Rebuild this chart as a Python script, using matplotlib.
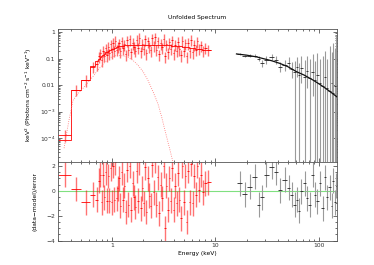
import numpy as np
import matplotlib
matplotlib.use("Agg")
import matplotlib.pyplot as plt
from matplotlib.ticker import FixedLocator, FixedFormatter, LogLocator, NullFormatter, MultipleLocator

# --- red spectrum (soft band), energies in keV ---
red_e = [0.35, 0.45, 0.56, 0.655,
         0.72, 0.745, 0.77, 0.795, 0.82, 0.845, 0.87, 0.895, 0.92, 0.945,
         0.97, 0.995, 1.02, 1.05, 1.08, 1.11, 1.14, 1.17, 1.20, 1.24,
         1.28, 1.32, 1.36, 1.40, 1.44, 1.48, 1.53, 1.58, 1.63, 1.68,
         1.73, 1.78, 1.84, 1.90, 1.96, 2.02, 2.08, 2.15, 2.22, 2.29,
         2.36, 2.44, 2.52, 2.60, 2.68, 2.77, 2.86, 2.95, 3.05, 3.15,
         3.25, 3.36, 3.47, 3.58, 3.70, 3.82, 3.95, 4.08, 4.21, 4.35,
         4.49, 4.64, 4.79, 4.95, 5.11, 5.28, 5.46, 5.64, 5.83, 6.03,
         6.24, 6.46, 6.70, 6.95, 7.25, 7.60, 8.00, 8.45]
red_y = [1.35e-4, 0.0068, 0.016, 0.05,
         0.06, 0.12, 0.16, 0.09, 0.20, 0.13, 0.25, 0.14, 0.28, 0.16,
         0.35, 0.17, 0.40, 0.20, 0.48, 0.22, 0.30, 0.38, 0.19, 0.45,
         0.25, 0.36, 0.15, 0.50, 0.22, 0.55, 0.18, 0.40, 0.28, 0.20,
         0.52, 0.26, 0.62, 0.19, 0.37, 0.24, 0.55, 0.16, 0.45, 0.29,
         0.21, 0.58, 0.33, 0.65, 0.22, 0.46, 0.15, 0.38, 0.27, 0.56,
         0.12, 0.36, 0.17, 0.42, 0.24, 0.50, 0.16, 0.34, 0.20, 0.44,
         0.23, 0.14, 0.48, 0.20, 0.38, 0.12, 0.40, 0.19, 0.52, 0.17,
         0.34, 0.22, 0.46, 0.24, 0.33, 0.21, 0.26, 0.22]
red_model = [8.5e-5, 0.0065, 0.016, 0.052,
             0.08, 0.095, 0.11, 0.125, 0.14, 0.155, 0.17, 0.185, 0.20, 0.21,
             0.22, 0.23, 0.24, 0.25, 0.26, 0.27, 0.28, 0.29, 0.295, 0.30,
             0.31, 0.315, 0.32, 0.32, 0.325, 0.33, 0.33, 0.335, 0.335, 0.34,
             0.34, 0.34, 0.34, 0.34, 0.34, 0.34, 0.34, 0.34, 0.34, 0.34,
             0.34, 0.34, 0.34, 0.34, 0.335, 0.335, 0.335, 0.33, 0.33, 0.33,
             0.325, 0.325, 0.32, 0.32, 0.315, 0.31, 0.31, 0.305, 0.30, 0.30,
             0.295, 0.29, 0.285, 0.28, 0.275, 0.27, 0.265, 0.26, 0.255, 0.25,
             0.245, 0.24, 0.235, 0.23, 0.225, 0.22, 0.215, 0.21]
red_resid = [1.3, 0.15, -0.9, -0.3,
             -0.7, 0.8, 1.3, -0.9, 1.3, -0.5, 1.5, -0.8, 1.2, -0.8,
             1.8, -0.9, 2.0, -0.7, 2.3, -0.6, 0.2, 1.0, -1.2, 1.5,
             -0.7, 0.4, -1.7, 1.7, -1.1, 2.0, -1.5, 0.6, -0.5, -1.3,
             1.6, -0.8, 2.3, -1.4, 0.2, -1.0, 1.9, -1.7, 1.0, -0.4,
             -1.2, 2.1, -0.1, 2.4, -1.1, 1.1, -1.8, 0.5, -0.6, 2.0,
             -3.0, 0.4, -1.5, 1.0, -0.8, 1.8, -1.5, 0.4, -1.0, 1.4,
             -0.7, -2.2, 2.0, -0.9, 1.2, -2.5, 1.6, -0.9, 2.2, -1.0,
             1.2, -0.3, 2.0, 0.1, 1.3, -0.1, 0.6, 0.7]
red_rel_err = 0.45

# dotted model component on the red spectrum
comp_e = [0.344, 0.38, 0.42, 0.47, 0.53, 0.59, 0.66, 0.73, 0.82, 0.915, 1.0, 1.09, 1.2,
          1.3, 1.43, 1.6, 1.78, 2.0, 2.23, 2.5, 2.78, 3.0, 3.25, 3.45, 3.64, 3.9]
comp_y = [4.2e-5, 4e-4, 0.0027, 0.0049, 0.008, 0.013, 0.022, 0.037, 0.062, 0.095, 0.118, 0.13, 0.13,
          0.125, 0.112, 0.085, 0.057, 0.032, 0.015, 0.0055, 0.002, 7e-4, 2e-4, 8e-5, 3.5e-5, 1.2e-5]

# --- black spectrum (hard band) ---
blk_e = [17.3, 19.3, 21.5, 24.0, 26.5, 28.0, 31.0, 35.0, 39.0, 42.0, 47.0, 51.0, 55.0, 58.6,
         61.0, 64.0, 68.0, 73.0, 77.0, 82.0, 87.0, 92.0, 97.0, 102.0, 110.0, 115.0, 120.0,
         128.0, 133.0, 138.0, 143.0, 148.0]
blk_y = [0.148, 0.125, 0.13, 0.13, 0.10, 0.066, 0.09, 0.117, 0.088, 0.049, 0.057, 0.07, 0.04, 0.03,
         0.05, 0.025, 0.045, 0.02, 0.035, 0.018, 0.03, 0.015, 0.025, 0.012, 0.009, 0.02, 0.008,
         0.006, 0.012, 0.005, 0.009, 0.004]
blk_lo = [0.135, 0.112, 0.115, 0.11, 0.08, 0.05, 0.065, 0.09, 0.06, 0.03, 0.035, 0.04, 0.018, 1e-6,
          0.02, 1e-6, 0.012, 1e-6, 0.008, 1e-6, 0.004, 1e-6, 1e-6, 1e-6, 1e-6, 1e-6, 1e-6,
          1e-6, 1e-6, 1e-6, 1e-6, 1e-6]
blk_hi = [0.16, 0.138, 0.145, 0.15, 0.12, 0.085, 0.12, 0.145, 0.12, 0.075, 0.085, 0.11, 0.075, 0.08,
          0.11, 0.07, 0.12, 0.09, 0.13, 0.10, 0.15, 0.08, 0.16, 0.10, 0.12, 0.20, 0.10,
          0.30, 0.18, 0.40, 0.25, 0.80]
blk_resid = [0.6, -0.27, 0.35, 1.15, -1.1, -0.5, 1.3, 1.95, 1.5, 0.05, 0.9, 0.25, -0.3, -1.1,
             -0.7, -1.6, -0.05, 0.6, -0.6, -1.1, 1.3, -0.3, -0.85, 0.6, -1.4, 1.1, -0.5,
             0.3, -1.2, 0.8, -0.9, 0.4]
blk_model_e = [16, 20, 25, 29, 35, 42, 50, 61, 72, 88, 105, 125, 150]
blk_model_y = [0.15, 0.135, 0.116, 0.10, 0.083, 0.066, 0.05, 0.032, 0.024, 0.0155, 0.01, 0.0062, 0.0036]

FS = 4.3


def bin_edges(e, first, last):
    e = np.asarray(e)
    mids = np.sqrt(e[:-1] * e[1:])
    return np.concatenate([[first], mids, [last]])


def style_axis(ax):
    ax.tick_params(which='both', direction='in', top=True, right=True,
                   labelsize=FS, width=0.5, colors='#333333', pad=2)
    ax.tick_params(which='major', length=3)
    ax.tick_params(which='minor', length=1.5)
    for s in ax.spines.values():
        s.set_linewidth(0.6)
        s.set_color('#555555')


re = np.array(red_e)
ry = np.array(red_y)
redges = bin_edges(re, 0.30, 9.0)
rxerr = [re - redges[:-1], redges[1:] - re]

be = np.array(blk_e)
by = np.array(blk_y)
bedges = bin_edges(be, 16.2, 152.0)
bxerr = [be - bedges[:-1], bedges[1:] - be]

red_bar = (1, 0, 0, 0.55)
grey_bar = '#9a9a9a'

fig = plt.figure(figsize=(3.74, 2.65), dpi=100)
ax1 = fig.add_axes([0.155, 0.390, 0.746, 0.502])
ax2 = fig.add_axes([0.155, 0.092, 0.746, 0.298], sharex=ax1)

# upper panel
ax1.errorbar(re, ry, yerr=ry * red_rel_err, fmt='none', ecolor=red_bar, elinewidth=1.0)
ax1.errorbar(re, ry, xerr=rxerr, fmt='none', ecolor='red', elinewidth=0.6)
ax1.stairs(red_model, redges, baseline=None, color='red', lw=0.6)
ax1.plot(comp_e, comp_y, ls=':', color='#ff7070', lw=0.6)

ax1.errorbar(be, by, yerr=[by - np.array(blk_lo), np.array(blk_hi) - by], fmt='none',
             ecolor=grey_bar, elinewidth=0.8)
ax1.errorbar(be, by, xerr=bxerr, fmt='none', ecolor='#222222', elinewidth=0.6)
ax1.plot(blk_model_e, blk_model_y, color='#111111', lw=0.9)

ax1.set_xscale('log')
ax1.set_yscale('log')
ax1.set_xlim(0.3, 150)
ax1.set_ylim(1.3e-5, 1.35)
ax1.yaxis.set_major_locator(FixedLocator([1e-4, 1e-3, 1e-2, 1e-1, 1]))
ax1.yaxis.set_major_formatter(FixedFormatter(['$10^{-4}$', '$10^{-3}$', '0.01', '0.1', '1']))
ax1.yaxis.set_minor_locator(LogLocator(base=10, subs=np.arange(2, 10), numticks=20))
ax1.yaxis.set_minor_formatter(NullFormatter())
ax1.tick_params(axis='x', which='both', labelbottom=False)
style_axis(ax1)
ax1.set_ylabel('keV$^2$ (Photons cm$^{-2}$ s$^{-1}$ keV$^{-1}$)', fontsize=FS, labelpad=4)

# lower panel: residuals
ax2.axhline(0, color='#80e080', lw=0.8)
ax2.errorbar(re, red_resid, yerr=1, fmt='none', ecolor=red_bar, elinewidth=1.0)
ax2.errorbar(re, red_resid, xerr=rxerr, fmt='none', ecolor='red', elinewidth=0.6)
ax2.errorbar(be, blk_resid, yerr=1, fmt='none', ecolor=grey_bar, elinewidth=0.8)
ax2.errorbar(be, blk_resid, xerr=bxerr, fmt='none', ecolor='#222222', elinewidth=0.6)

ax2.set_ylim(-4, 2.35)
ax2.yaxis.set_major_locator(FixedLocator([-4, -2, 0, 2]))
ax2.yaxis.set_minor_locator(MultipleLocator(0.5))
ax2.xaxis.set_major_locator(FixedLocator([1, 10, 100]))
ax2.xaxis.set_major_formatter(FixedFormatter(['1', '10', '100']))
ax2.xaxis.set_minor_locator(LogLocator(base=10, subs=np.arange(2, 10), numticks=20))
ax2.xaxis.set_minor_formatter(NullFormatter())
style_axis(ax2)
ax2.set_ylabel('(data\u2212model)/error', fontsize=FS, labelpad=6)
ax2.set_xlabel('Energy (keV)', fontsize=FS, labelpad=2)

fig.text(0.528, 1 - 17 / 265, 'Unfolded Spectrum', ha='center', va='center', fontsize=FS)

fig.savefig('out.png', dpi=100)
